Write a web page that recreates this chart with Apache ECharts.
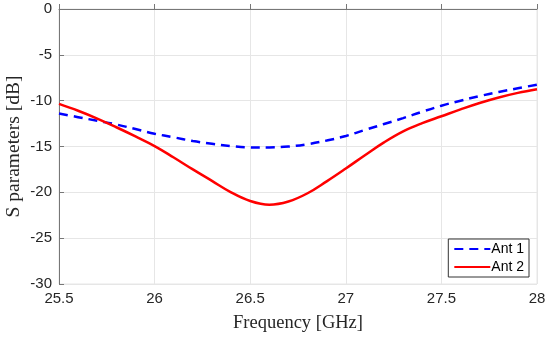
<!DOCTYPE html>
<html>
<head>
<meta charset="utf-8">
<script src="https://cdn.jsdelivr.net/npm/echarts@6/dist/echarts.min.js"></script>
<style>html,body{margin:0;padding:0;background:#fff}#c{width:550px;height:337px}</style>
</head>
<body>
<div id="c"></div>
<script>
const freq = [25.5,25.6,25.7,25.8,25.9,26.0,26.1,26.2,26.3,26.4,26.5,26.6,26.7,26.8,26.9,27.0,27.1,27.2,27.3,27.4,27.5,27.6,27.7,27.8,27.9,28.0];
const ant1 = [-11.4,-11.8,-12.2,-12.6,-13.1,-13.6,-14.0,-14.4,-14.7,-14.95,-15.1,-15.1,-15.0,-14.75,-14.35,-13.85,-13.2,-12.55,-11.9,-11.2,-10.55,-10.0,-9.5,-9.05,-8.65,-8.25];
const ant2 = [-10.35,-11.1,-11.95,-12.9,-13.9,-14.95,-16.2,-17.5,-18.75,-20.0,-20.95,-21.35,-21.0,-20.1,-18.8,-17.4,-15.95,-14.55,-13.35,-12.45,-11.7,-10.95,-10.25,-9.65,-9.15,-8.75];
const seriesNames = ['Ant 1','Ant 2'];
const xTicks = [25.5,26,26.5,27,27.5,28];
const yTicks = [-30,-25,-20,-15,-10,-5,0];

const chart = echarts.init(document.getElementById('c'));
const pairs = (ys) => freq.map((f,i)=>[f, ys[i]]);
chart.setOption({
  animation:false,
  backgroundColor:'#fff',
  grid:{left:59,right:13,top:9,bottom:53,show:true,borderColor:'#e6e6e6',borderWidth:1,
    containLabel:false,outerBoundsMode:'none'},
  xAxis:{
    type:'value',min:25.5,max:28,interval:0.5,
    name:'Frequency [GHz]',nameLocation:'middle',nameGap:30,nameMoveOverlap:false,
    nameTextStyle:{fontFamily:'Liberation Serif',fontSize:18.5,color:'#262626'},
    axisLine:{show:true,lineStyle:{color:'#777',width:1}},
    axisTick:{show:true,inside:true,length:5,lineStyle:{color:'#777'}},
    splitLine:{show:true,lineStyle:{color:'#e6e6e6',width:1}},
    axisLabel:{fontFamily:'Liberation Sans',fontSize:15,color:'#262626',margin:7,
      formatter:(v)=>String(v)}
  },
  yAxis:{
    type:'value',min:-30,max:0,interval:5,
    name:'S parameters [dB]',nameLocation:'middle',nameGap:35,nameRotate:90,nameMoveOverlap:false,
    nameTextStyle:{fontFamily:'Liberation Serif',fontSize:19.5,color:'#262626'},
    axisLine:{show:true,lineStyle:{color:'#777',width:1}},
    axisTick:{show:true,inside:true,length:5,lineStyle:{color:'#777'}},
    splitLine:{show:true,lineStyle:{color:'#e6e6e6',width:1}},
    axisLabel:{fontFamily:'Liberation Sans',fontSize:15,color:'#262626',margin:7}
  },
  legend:{
    data:seriesNames,orient:'vertical',right:21,bottom:60,
    backgroundColor:'#fff',borderColor:'#333',borderWidth:1,borderRadius:0,
    padding:[3,5,3,5],itemGap:4,itemWidth:36,itemHeight:12,
    itemStyle:{opacity:0},
    textStyle:{fontFamily:'Liberation Sans',fontSize:14,color:'#000',padding:[0,0,0,-4]}
  },
  series:[
    {name:seriesNames[0],type:'line',data:pairs(ant1),smooth:0.4,symbol:'none',
      lineStyle:{color:'#0000ff',width:2.5,type:[9,6]},itemStyle:{color:'#0000ff'}},
    {name:seriesNames[1],type:'line',data:pairs(ant2),smooth:0.4,symbol:'none',
      lineStyle:{color:'#ff0000',width:2.5},itemStyle:{color:'#ff0000'}}
  ]
});
</script>
</body>
</html>
